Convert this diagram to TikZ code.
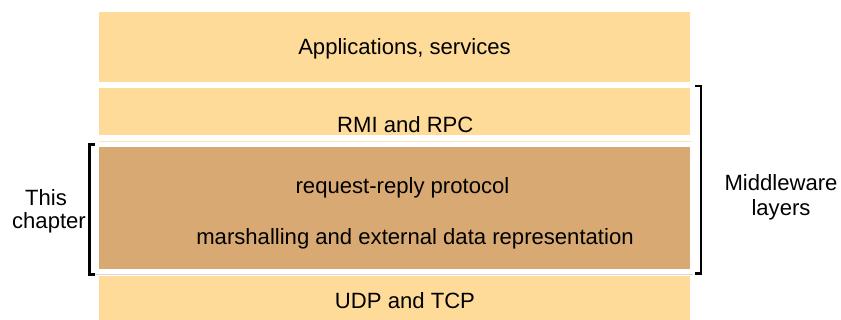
\documentclass[tikz,border=0pt]{standalone}
\usepackage{fontspec}
\setmainfont{Liberation Sans}
\usetikzlibrary{positioning}
\definecolor{layerlight}{RGB}{255,219,153}
\definecolor{layerdark}{RGB}{216,169,114}
\definecolor{sepyellow}{RGB}{255,228,185}
\definecolor{sepgrey}{RGB}{222,214,202}
\tikzset{
  layer/.style={rectangle,fill=layerlight,draw=none,minimum width=591pt,inner sep=0pt},
  core/.style={layer,fill=layerdark},
  ltxt/.style={font=\fontsize{22.1}{25}\selectfont,anchor=base,inner sep=0pt},
  brk/.style={line width=2.2pt,line cap=butt},
  every picture/.style={x=1pt,y=-1pt}
}
\begin{document}
\begin{tikzpicture}
  \useasboundingbox (0,0) rectangle (841,320);
  % layer stack
  \node[layer,minimum height=70pt] (app) at (394.5,47) {};
  \node[layer,minimum height=47pt] (rmi) at (394.5,111.5) {};
  \node[core,minimum height=122pt] (reqrep) at (394.5,208.5) {};
  \node[layer,minimum height=44pt] (udp) at (394.5,298) {};
  \draw[sepyellow,line width=1pt] ([yshift=-6pt]rmi.south west) -- ([xshift=2pt,yshift=-6pt]rmi.south east);
  \draw[sepgrey,line width=1pt] ([xshift=-4pt,yshift=1.3pt]udp.north west) -- ([xshift=3pt,yshift=1.3pt]udp.north east);
  \node[ltxt] (tapp) at (404.5,55) {Applications, services};
  \node[ltxt] (trmi) at (405.3,132.3) {RMI and RPC};
  \node[ltxt] (treq) at (402.5,194) {request-reply protocol};
  \node[ltxt] (tmar) at (415,245) {marshalling and external data representation};
  \node[ltxt] (tudp) at (405,308.7) {UDP and TCP};
  % brackets
  \draw[brk] (95,144.5) -- (89.5,144.5) -- (89.5,274.5) -- (95,274.5);
  \draw[brk] (695,86) -- (701,86) -- (701,273.5) -- (695,273.5);
  \node[ltxt] (chap1) at (46,206) {This};
  \node[ltxt] (chap2) at (49,229) {chapter};
  \node[ltxt] (mw1) at (781,190.7) {Middleware};
  \node[ltxt] (mw2) at (781,215.7) {layers};
\end{tikzpicture}
\end{document}
